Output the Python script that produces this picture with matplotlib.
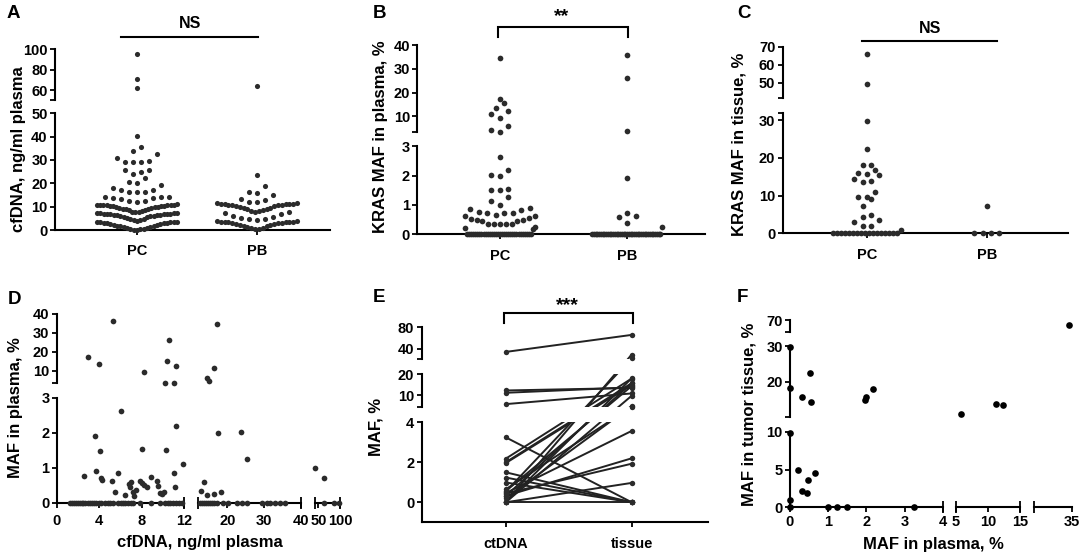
import numpy as np
import matplotlib
matplotlib.use("Agg")
import matplotlib.pyplot as plt

# ---------------------------------------------------------------- data
AB_groups = ["PC", "PB"]
E_groups = ["ctDNA", "tissue"]

# A: cfDNA, ng/ml plasma
A_pc = [95.0, 70.5, 61.5, 40.3, 35.7, 34.0, 32.4, 30.7, 29.6, 29.3, 29.0, 29.0,
        25.7, 25.6, 25.0, 23.9, 22.4, 20.4, 20.0, 19.3, 18.0, 17.1, 17.1, 16.4,
        16.4, 16.2, 14.3, 14.3, 14.3, 13.9, 13.7, 13.3, 12.6, 12.6, 12.1,
        11.0, 10.9, 10.9, 10.8, 10.7, 10.6, 10.6, 10.5, 10.4, 10.3, 10.2, 10.1,
        10.0, 9.9, 9.7, 9.6, 9.4, 9.2, 9.0, 8.8, 8.6, 8.4, 8.1, 7.9, 7.7, 7.5,
        7.3, 7.2, 7.2, 7.1, 7.0, 7.0, 6.9, 6.8, 6.8, 6.7, 6.6, 6.5, 6.4, 6.3,
        6.1, 6.0, 5.8, 5.6, 5.4, 5.1, 4.9, 4.6, 4.4, 4.1, 3.8,
        3.6, 3.5, 3.5, 3.4, 3.3, 3.2, 3.1, 3.0, 2.8, 2.7, 2.5, 2.3, 2.1, 1.9,
        1.7, 1.5, 1.3, 1.1, 0.9, 0.8, 0.6, 0.5, 0.3, 0.2, 0.1]
A_pb = [64.0, 23.6, 18.9, 16.4, 16.0, 15.0, 13.3, 12.9, 12.1, 11.9,
        11.4, 11.4, 11.3, 11.3, 11.2, 11.1, 11.0, 10.9, 10.8, 10.6, 10.5, 10.3,
        10.1, 9.9, 9.6, 9.4, 9.1, 8.8, 8.6, 8.3, 8.0, 7.9,
        7.6, 7.4, 6.9, 6.2, 5.4, 5.3, 4.8, 4.5, 4.3,
        3.7, 3.7, 3.6, 3.6, 3.5, 3.4, 3.4, 3.3, 3.2, 3.0, 2.9, 2.7, 2.5, 2.3,
        2.0, 1.8, 1.5, 1.2, 1.0, 0.8, 0.5, 0.3]

# B: KRAS MAF in plasma, %
B_pc = [34.6, 17.2, 15.5, 13.4, 12.2, 11.1, 9.2, 5.9, 4.2, 3.5,
        2.62, 2.18, 2.01, 2.0, 1.55, 1.5, 1.5, 1.26, 1.15, 1.0,
        0.88, 0.86, 0.83, 0.76, 0.74, 0.74, 0.72, 0.66, 0.62, 0.62,
        0.56, 0.53, 0.48, 0.48, 0.47, 0.47, 0.35, 0.35, 0.35, 0.35, 0.35,
        0.26, 0.23, 0.19,
        0, 0, 0, 0, 0, 0, 0, 0, 0, 0, 0, 0, 0, 0, 0, 0,
        0, 0, 0, 0, 0, 0, 0, 0, 0, 0, 0, 0, 0, 0, 0, 0]
B_pb = [36.1, 26.0, 4.0, 1.91, 0.72, 0.62, 0.60, 0.37, 0.25,
        0, 0, 0, 0, 0, 0, 0, 0, 0, 0, 0, 0, 0, 0, 0, 0, 0, 0, 0, 0,
        0, 0, 0, 0, 0, 0, 0, 0, 0, 0, 0, 0, 0, 0, 0, 0, 0, 0, 0, 0]

# C: KRAS MAF in tissue, %
C_pc = [66.0, 49.5, 29.7, 22.5, 18.1, 18.1, 16.7, 16.1, 15.7, 15.4, 14.3,
        13.9, 13.7, 10.9, 9.7, 9.6, 9.1, 7.3, 4.9, 4.4, 3.5, 2.9, 2.0, 1.95,
        0.9, 0, 0, 0, 0, 0, 0, 0, 0, 0, 0, 0, 0, 0, 0, 0, 0, 0]
C_pb = [7.2, 0, 0, 0, 0]

# D: cfDNA (x) vs MAF in plasma (y), samples with detectable MAF
D_cfdna = [2.9, 4.0, 5.3, 8.2, 10.2, 10.4, 10.6, 11.0, 11.2, 14.5, 15.0, 16.3, 17.3,
           2.6, 3.6, 3.7, 4.1, 4.2, 4.25, 5.2, 5.5, 5.8, 6.05, 6.4, 6.8, 6.9, 7.0,
           7.2, 7.3, 7.5, 7.8, 8.05, 8.05, 8.2, 8.5, 8.9, 9.4, 9.5, 9.7, 9.9, 10.1,
           10.25, 11.0, 11.2, 11.1, 11.85,
           12.9, 13.8, 14.5, 16.3, 17.5, 18.4, 23.7, 25.3, 42.5, 62.0]
D_maf = [17.2, 13.8, 36.2, 9.5, 3.75, 15.4, 26.1, 3.85, 12.5, 6.2, 5.0, 11.4, 34.6,
         0.76, 1.9, 0.9, 1.48, 0.7, 0.65, 0.61, 0.31, 0.84, 2.62, 0.21, 0.53, 0.44,
         0.58, 0.3, 0.18, 0.36, 0.61, 1.53, 0.55, 0.5, 0.46, 0.73, 0.63, 0.49, 0.29,
         0.24, 0.31, 1.5, 0.84, 2.19, 0.46, 1.12,
         0.33, 0.59, 0.22, 0.25, 1.98, 0.32, 2.01, 1.24, 0.98, 0.72]
# D: cfDNA of samples with MAF = 0
D_cfdna_undetected = [1.25, 1.45, 1.6, 1.8, 2.0, 2.15, 2.35, 2.5, 2.7, 2.9, 3.1, 3.3,
                      3.5, 3.7, 3.95, 4.2, 4.5, 4.8, 5.0, 5.3, 5.8, 6.0, 6.2, 6.45,
                      6.7, 6.95, 7.2, 7.8, 8.9, 9.7, 10.2, 10.45, 10.7, 10.95, 11.2,
                      11.5, 11.8, 12.6, 13.1, 13.6, 14.2, 14.8, 15.3, 15.9, 16.4,
                      17.2, 18.8, 20.2, 22.6, 24.0, 25.4, 29.4, 30.8, 31.6, 33.0,
                      34.3, 35.7, 63.0, 85.0, 98.0]
D_maf_undetected = 0.0

# E / F: paired MAF in plasma (ctDNA) and tumour tissue
EF_plasma = [0, 0, 0, 0, 0, 0.2, 0.32, 0.32, 0.44, 0.46, 0.53, 0.56, 0.65,
             0.99, 1.24, 1.5, 1.96, 2.0, 2.18, 3.25, 5.8, 11.2, 12.3, 34.6]
EF_tissue = [29.8, 18.1, 9.8, 0.97, 0, 4.93, 15.8, 2.2, 1.93, 3.57, 22.5, 14.4,
             4.58, 0, 0, 0, 15.0, 15.8, 18.0, 0, 10.9, 13.8, 13.5, 66.0]

# ---------------------------------------------------------------- setup
W, H = 1084, 558
plt.rcParams['font.family'] = ['Liberation Sans', 'DejaVu Sans']
plt.rcParams['font.weight'] = 'bold'
plt.rcParams['axes.labelweight'] = 'bold'
fig = plt.figure(figsize=(W / 100, H / 100), dpi=100)

DOT = '#2b2b2b'
LW = 1.5
TICK_LEN = 3.8
TICK_W = 1.3
TSIZE = 10.5
LSIZE = 12


def fx(x):
    return x / W


def fy(y):
    return 1 - y / H


def px_axes(l, t, r, b):
    ax = fig.add_axes([l / W, 1 - b / H, (r - l) / W, (b - t) / H])
    ax.patch.set_visible(False)
    for s in ax.spines.values():
        s.set_visible(False)
    return ax


def pw_funcs(knots):
    v = np.array([k[0] for k in knots], float)
    p = np.array([k[1] for k in knots], float)

    def _map(x, a, b):
        x = np.asarray(x, float)
        y = np.interp(x, a, b)
        s0 = (b[1] - b[0]) / (a[1] - a[0])
        s1 = (b[-1] - b[-2]) / (a[-1] - a[-2])
        y = np.where(x < a[0], b[0] + (x - a[0]) * s0, y)
        y = np.where(x > a[-1], b[-1] + (x - a[-1]) * s1, y)
        return y
    return (lambda x: _map(x, v, p)), (lambda y: _map(y, p, v))


def set_pw_y(ax, segs, bottom_px):
    knots = []
    for (v0, p0), (v1, p1) in segs:
        knots += [(v0, bottom_px - p0), (v1, bottom_px - p1)]
    f, i = pw_funcs(knots)
    ax.set_yscale('function', functions=(f, i))
    ax.set_ylim(segs[0][0][0], segs[-1][1][0])


def set_pw_x(ax, segs, left_px):
    knots = []
    for (v0, p0), (v1, p1) in segs:
        knots += [(v0, p0 - left_px), (v1, p1 - left_px)]
    f, i = pw_funcs(knots)
    ax.set_xscale('function', functions=(f, i))
    ax.set_xlim(segs[0][0][0], segs[-1][1][0])


def yspine(ax, segs):
    for (v0, _), (v1, _) in segs:
        ax.plot([0, 0], [v0, v1], transform=ax.get_yaxis_transform(), color='k',
                lw=LW, clip_on=False, solid_capstyle='projecting', zorder=2.5)


def xspine_full(ax):
    ax.plot([0, 1], [0, 0], transform=ax.transAxes, color='k', lw=LW,
            clip_on=False, solid_capstyle='projecting', zorder=2.5)


def xspine_segs(ax, segs, caps):
    for (v0, _), (v1, _) in segs:
        ax.plot([v0, v1], [0, 0], transform=ax.get_xaxis_transform(), color='k',
                lw=LW, clip_on=False, solid_capstyle='projecting', zorder=2.5)
    for c in caps:
        ax.plot([c], [0], transform=ax.get_xaxis_transform(), marker='|', ms=8,
                mew=TICK_W, color='k', clip_on=False, zorder=2.5)


def style_ticks(ax, xpad, ypad=1.5):
    ax.tick_params(axis='both', direction='out', length=TICK_LEN, width=TICK_W,
                   labelsize=TSIZE, colors='k')
    ax.tick_params(axis='x', pad=xpad)
    ax.tick_params(axis='y', pad=ypad)
    ax.minorticks_off()


def swarm_x(ax, center, values, h_px, s0_px, w_px):
    values = np.asarray(values, float)
    order = np.argsort(values, kind='stable')
    pts = np.column_stack([np.full(len(values), float(center)), values])
    py = ax.transData.transform(pts)[:, 1]
    x0 = ax.transData.transform([[center, 0.0]])[0, 0]
    x1 = ax.transData.transform([[center + 1.0, 0.0]])[0, 0]
    ppu = x1 - x0
    xs = np.full(len(values), float(center))
    rows, cur, start = [], [], None
    for i in order:
        if start is None or py[i] - start >= h_px:
            if cur:
                rows.append(cur)
            cur, start = [i], py[i]
        else:
            cur.append(i)
    if cur:
        rows.append(cur)
    for row in rows:
        n = len(row)
        s = s0_px if n < 2 else min(s0_px, w_px / (n - 1))
        slots = np.arange(n) - (n - 1) / 2.0
        slots = sorted(slots, key=lambda t: (abs(t), t))
        for idx, sl in zip(row, slots):
            xs[idx] = center + sl * s / ppu
    return xs


def ytop_frac(t, b, ypx):
    return (b - ypx) / (b - t)


def letter(x, y, s):
    fig.text(fx(x), fy(y), s, fontsize=13.5, fontweight='bold', ha='left', va='baseline')


def ylab(x, y, s):
    fig.text(fx(x), fy(y), s, fontsize=LSIZE, fontweight='bold', rotation=90,
             ha='center', va='center')


def dotplot(ax, groups, data, yticks, ylabels, segs, h_px, s0_px, w_px, ms):
    for k, vals in enumerate(data):
        xs = swarm_x(ax, k, vals, h_px, s0_px, w_px)
        ax.plot(xs, vals, 'o', ms=ms, color=DOT, mew=0, clip_on=False, zorder=3)
    ax.set_yticks(yticks, labels=ylabels)
    ax.set_xticks(range(len(groups)), labels=groups)
    yspine(ax, segs)
    xspine_full(ax)


def annot(ax, box, x0px, x1px, ypx, legs=None):
    l, t, r, b = box
    tr = ax.get_xaxis_transform()
    inv = ax.transData.inverted()
    xd0 = inv.transform([[x0px, (H - b)]])[0, 0]
    xd1 = inv.transform([[x1px, (H - b)]])[0, 0]
    yf = ytop_frac(t, b, ypx)
    if legs is None:
        ax.plot([xd0, xd1], [yf, yf], transform=tr, color='k', lw=LW, clip_on=False)
    else:
        yl = ytop_frac(t, b, legs)
        ax.plot([xd0, xd0, xd1, xd1], [yl, yf, yf, yl], transform=tr, color='k',
                lw=LW, clip_on=False, solid_joinstyle='miter')


# ---------------------------------------------------------------- panel A
boxA = (55, 49.3, 330, 230)
axA = px_axes(*boxA)
segA = [((0, 230), (50, 113.3)), ((50.2, 100), (100, 49.3))]
set_pw_y(axA, segA, boxA[3])
axA.set_xlim(-0.683, 1.608)
dotplot(axA, AB_groups, [A_pc, A_pb],
        [0, 10, 20, 30, 40, 50, 50.2, 60, 80, 100],
        ['0', '10', '20', '30', '40', '50', '', '60', '80', '100'],
        segA, 8.3, 8.0, 80, 3.7)
style_ticks(axA, 6.5)
annot(axA, boxA, 120.7, 257.7, 37.3)
fig.text(fx(190), fy(24), 'NS', fontsize=11.5, ha='center', va='center')
letter(7, 17.5, 'A')
ylab(19, 149, 'cfDNA, ng/ml plasma')

# ---------------------------------------------------------------- panel B
boxB = (417.3, 45.3, 705, 234.3)
axB = px_axes(*boxB)
segB = [((0, 234.3), (3, 146.3)), ((3.24, 132.3), (40, 45.3))]
set_pw_y(axB, segB, boxB[3])
axB.set_xlim(-0.651, 1.614)
dotplot(axB, AB_groups, [B_pc, B_pb],
        [0, 1, 2, 3, 3.24, 10, 20, 30, 40],
        ['0', '1', '2', '3', '', '10', '20', '30', '40'],
        segB, 8.0, 8.5, 70, 4.1)
style_ticks(axB, 6.5)
annot(axB, boxB, 498.3, 627.7, 26.7, legs=36.7)
fig.text(fx(562), fy(21.5), '**', fontsize=14, ha='center', va='baseline')
letter(373, 17.5, 'B')
ylab(380, 137, 'KRAS MAF in plasma, %')

# ---------------------------------------------------------------- panel C
boxC = (782.7, 46.7, 1068.3, 233.3)
axC = px_axes(*boxC)
segC = [((0, 233.3), (32, 112.7)), ((41.3, 98.3), (70, 46.7))]
set_pw_y(axC, segC, boxC[3])
axC.set_xlim(-0.7, 1.68)
dotplot(axC, AB_groups, [C_pc, C_pb],
        [0, 10, 20, 30, 32, 41.3, 50, 60, 70],
        ['0', '10', '20', '30', '', '', '50', '60', '70'],
        segC, 7.0, 8.3, 68, 4.1)
style_ticks(axC, 6.5)
annot(axC, boxC, 861.7, 996.7, 40.7)
fig.text(fx(930), fy(28.3), 'NS', fontsize=11.5, ha='center', va='center')
letter(737, 17.5, 'C')
ylab(739, 144, 'KRAS MAF in tissue, %')

# ---------------------------------------------------------------- panel D
boxD = (56.7, 313.7, 340, 502.7)
axD = px_axes(*boxD)
segDy = [((0, 502.7), (3, 397.7)), ((3.56, 383.3), (40, 313.7))]
segDx = [((0, 56.7), (12, 184.3)), ((12.05, 198), (40, 301)), ((42, 315), (100, 340))]
set_pw_y(axD, segDy, boxD[3])
set_pw_x(axD, segDx, boxD[0])
axD.plot(D_cfdna, D_maf, 'o', ms=4.1, color=DOT, mew=0, clip_on=False, zorder=3)
axD.plot(D_cfdna_undetected, np.full(len(D_cfdna_undetected), D_maf_undetected), 'o',
         ms=4.1, color=DOT, mew=0, clip_on=False, zorder=3)
axD.set_yticks([0, 1, 2, 3, 3.56, 10, 20, 30, 40],
               labels=['0', '1', '2', '3', '', '10', '20', '30', '40'])
axD.set_xticks([0, 4, 8, 12, 20, 30, 40, 50, 100],
               labels=['0', '4', '8', '12', '20', '30', '40', '50', '100'])
yspine(axD, segDy)
xspine_segs(axD, segDx, [12, 12.05, 40, 42, 100])
style_ticks(axD, 4.5)
letter(8, 303.5, 'D')
ylab(16, 408, 'MAF in plasma, %')
fig.text(fx(200), fy(543), 'cfDNA, ng/ml plasma', fontsize=LSIZE, ha='center', va='center')

# ---------------------------------------------------------------- panel E
boxE = (421.7, 327.3, 708.3, 521.7)
axE = px_axes(*boxE)
segE = [((-0.97, 521.7), (4, 422.3)), ((4.43, 407), (20, 374.3)), ((21, 359.3), (80, 327.3))]
set_pw_y(axE, segE, boxE[3])
axE.set_xlim(-0.667, 1.608)
for c, tv in zip(EF_plasma, EF_tissue):
    axE.plot([0, 1], [c, tv], color='#222222', lw=1.4, zorder=2, solid_capstyle='butt')
axE.axhspan(4, 4.43, color='white', zorder=2.2, lw=0)
axE.axhspan(20, 21, color='white', zorder=2.2, lw=0)
axE.plot(np.zeros(len(EF_plasma)), EF_plasma, 'o', ms=3.9, color=DOT, mew=0, zorder=3, clip_on=False)
axE.plot(np.ones(len(EF_tissue)), EF_tissue, 'o', ms=3.9, color=DOT, mew=0, zorder=3, clip_on=False)
axE.set_yticks([0, 2, 4, 4.43, 10, 20, 21, 40, 80],
               labels=['0', '2', '4', '', '10', '20', '', '40', '80'])
axE.set_xticks([0, 1], labels=E_groups)
yspine(axE, segE)
xspine_full(axE)
style_ticks(axE, 7.3)
annot(axE, boxE, 504, 633.3, 312.7, legs=322.7)
fig.text(fx(567), fy(310.5), '***', fontsize=14, ha='center', va='baseline')
letter(373, 302.5, 'E')
ylab(376, 427, 'MAF, %')

# ---------------------------------------------------------------- panel F
boxF = (790, 320.3, 1072.3, 507.3)
axF = px_axes(*boxF)
segFy = [((0, 507.3), (10, 431.7)), ((10.2, 416.7), (30, 346)), ((60.6, 331.5), (70, 320.3))]
segFx = [((0, 790), (4, 942.7)), ((5, 956), (15, 1020)), ((30, 1034.3), (35, 1072.3))]
set_pw_y(axF, segFy, boxF[3])
set_pw_x(axF, segFx, boxF[0])
axF.plot(EF_plasma, EF_tissue, 'o', ms=4.8, color='k', mew=0, clip_on=False, zorder=3)
axF.set_yticks([0, 5, 10, 10.2, 20, 30, 60.6, 70],
               labels=['0', '5', '10', '', '20', '30', '', '70'])
axF.set_xticks([0, 1, 2, 3, 4, 5, 10, 15, 35],
               labels=['0', '1', '2', '3', '4', '5', '10', '15', '35'])
yspine(axF, segFy)
xspine_segs(axF, segFx, [4, 5, 15, 30])
style_ticks(axF, 1.5)
letter(737, 302.5, 'F')
ylab(749, 414, 'MAF in tumor tissue, %')
fig.text(fx(933), fy(545), 'MAF in plasma, %', fontsize=LSIZE, ha='center', va='center')

fig.savefig('out.png', dpi=100)
